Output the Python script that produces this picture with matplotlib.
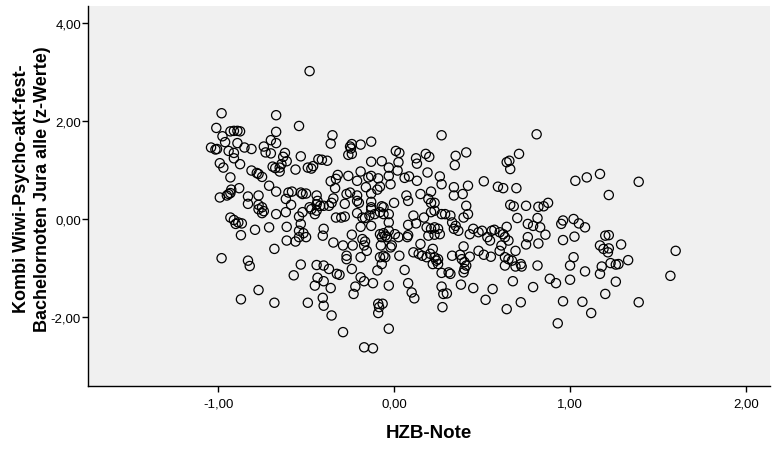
import matplotlib
matplotlib.use("Agg")
import matplotlib.pyplot as plt
from matplotlib.ticker import FixedLocator, FuncFormatter

plt.rcParams["font.family"] = ["Liberation Sans", "DejaVu Sans"]

# HZB-Note (x) and combined z-score (y)
hzb_note = [
    -0.48, -0.98, -0.67, -1.01, -0.54, -0.93, -0.91, -0.89, -0.875, -0.67,
    -0.975, -0.96, -0.89, -0.70, -0.67, -1.04, -1.015, -1.006, -0.94, -0.85,
    -0.81, -0.74, -0.73, -0.70, -0.91, -0.91, -0.62, -0.63, -0.61, -0.64,
    -0.53, -0.43, -0.99, -0.97, -0.875, -0.69, -0.675, -0.65, -0.65, -0.81,
    -0.78, -0.77, -0.75, -0.56, -0.49, -0.47, -0.46, -0.93, -0.71, -0.88,
    -0.925, -0.94, -0.93, -0.95, -0.99, -0.67, -0.83, -0.77, -0.60, -0.58,
    -0.53, -0.52, -0.50, -0.615, -0.44, -0.435, -0.44, -0.83, -0.77, -0.75,
    -0.585, -0.48, -0.42,
    -0.35, -0.36, -0.24, -0.25, -0.245, -0.26, -0.24, -0.19, -0.13, 0.27,
    0.01, 0.03, -0.41, -0.38, -0.13, -0.07, 0.025, 0.02, -0.03, -0.03,
    -0.02, 0.125, 0.13, 0.18, 0.20, 0.19, 0.26, 0.27, -0.19, -0.26,
    -0.32, -0.33, -0.36, -0.335, -0.21, -0.146, -0.13, -0.16, -0.13, -0.09,
    -0.08, -0.095, 0.06, 0.085, 0.13, 0.21, -0.27, -0.25, -0.21, -0.21,
    -0.20, -0.13, -0.13, 0.07, 0.08, 0.15, 0.195, 0.21, 0.23, -0.345,
    -0.355, -0.37, -0.40, -0.28, 0.00, -0.07,
    0.81, 0.41, 0.35, 0.345, 0.71, 0.64, 0.655, 0.66, 0.51, 0.34,
    0.34, 0.39, 0.42, 0.59, 0.62, 0.695, 0.41, 0.66, 0.68, 0.75,
    0.82, 0.85, 0.875,
    1.03, 1.095, 1.17, 1.22, 1.39,
    -0.77, -0.75, -0.74, -0.67, -0.615, -0.93, -0.91, -0.90, -0.885, -0.865,
    -0.87, -0.79, -0.71, -0.61, -0.54, -0.52, -0.53, -0.54, -0.515, -0.50,
    -0.54, -0.56, -0.61, -0.47, -0.45, -0.44, -0.40, -0.405, -0.68, -0.98,
    -0.83, -0.82, -0.53, -0.57, -0.44, -0.435, -0.45, -0.40, -0.77, -0.87,
    -0.68, -0.49, -0.405, -0.40,
    -0.33, -0.30, -0.28, -0.21, -0.18, -0.165, -0.14, -0.11, -0.08, -0.06,
    -0.03, -0.13, -0.06, -0.03, -0.345, -0.29, -0.24, -0.235, -0.19, -0.18,
    -0.165, -0.17, -0.155, -0.13, -0.08, -0.06, -0.05, -0.04, -0.07, -0.03,
    0.005, 0.025, -0.075, -0.02, -0.013, 0.08, 0.075, 0.08, 0.125, 0.11,
    0.17, 0.21, 0.23, 0.185, 0.21, 0.23, 0.25, 0.195, 0.23, 0.26,
    0.27, 0.15, 0.11, 0.14, 0.16, 0.185, 0.205, 0.22, 0.23, 0.24,
    0.25, 0.22, 0.25, -0.27, -0.27, -0.19, -0.06, -0.05, -0.08, -0.07,
    0.03, -0.24, -0.095, 0.06, 0.27, -0.37, -0.40, -0.325, -0.31, -0.36,
    -0.355, -0.19, -0.17, -0.22, -0.23, -0.12, -0.03, 0.08, 0.10, 0.115,
    0.27, 0.28, 0.275, -0.09, -0.065, -0.085, -0.09, -0.03, -0.29, -0.17,
    -0.12,
    0.29, 0.32, 0.33, 0.35, 0.34, 0.365, 0.395, 0.42, 0.70, 0.76,
    0.79, 0.83, 0.86, 0.815, 0.95, 0.96, 0.96, 0.45, 0.43, 0.48,
    0.50, 0.53, 0.545, 0.555, 0.57, 0.60, 0.62, 0.64, 0.63, 0.65,
    0.61, 0.60, 0.76, 0.75, 0.82, 0.69, 0.395, 0.48, 0.51, 0.55,
    0.33, 0.375, 0.385, 0.40, 0.41, 0.43, 0.63, 0.65, 0.67, 0.69,
    0.63, 0.72, 0.725, 0.815, 0.395, 0.40, 0.32, 0.31, 0.30, 0.38,
    0.45, 0.56, 0.52, 0.675, 0.79, 0.885, 0.92, 0.72, 0.64, 0.93,
    0.96,
    1.02, 1.05, 1.085, 1.025, 1.20, 1.22, 1.17, 1.19, 1.22, 1.215,
    1.29, 1.02, 1.00, 1.23, 1.26, 1.275, 1.33, 1.18, 1.17, 1.085,
    1.00, 1.26, 1.20, 1.60, 1.57, 1.39, 1.07, 1.12,
]
z_werte = [
    3.02, 2.16, 2.12, 1.86, 1.90, 1.79, 1.80, 1.80, 1.79, 1.78,
    1.69, 1.57, 1.55, 1.61, 1.55, 1.46, 1.42, 1.43, 1.39, 1.46,
    1.43, 1.48, 1.36, 1.34, 1.35, 1.24, 1.35, 1.27, 1.18, 1.12,
    1.28, 1.22, 1.14, 1.05, 1.12, 1.07, 1.04, 1.05, 0.97, 0.99,
    0.94, 0.92, 0.86, 1.01, 1.05, 1.03, 1.08, 0.85, 0.68, 0.63,
    0.60, 0.51, 0.53, 0.48, 0.44, 0.56, 0.46, 0.48, 0.54, 0.56,
    0.54, 0.51, 0.52, 0.41, 0.48, 0.37, 0.30, 0.31, 0.29, 0.24,
    0.29, 0.24, 0.27,
    1.71, 1.54, 1.53, 1.48, 1.44, 1.31, 1.33, 1.52, 1.58, 1.71,
    1.39, 1.35, 1.21, 1.19, 1.17, 1.18, 1.16, 0.99, 1.05, 0.88,
    0.71, 1.24, 1.13, 1.33, 1.27, 0.95, 0.87, 0.71, 0.97, 0.88,
    0.90, 0.82, 0.77, 0.63, 0.78, 0.85, 0.88, 0.65, 0.52, 0.83,
    0.66, 0.60, 0.84, 0.87, 0.78, 0.56, 0.51, 0.54, 0.48, 0.37,
    0.33, 0.35, 0.24, 0.48, 0.37, 0.51, 0.41, 0.33, 0.33, 0.42,
    0.33, 0.27, 0.27, 0.31, 0.33, 0.26,
    1.73, 1.36, 1.29, 1.10, 1.33, 1.16, 1.19, 1.02, 0.77, 0.65,
    0.48, 0.51, 0.68, 0.66, 0.63, 0.63, 0.27, 0.29, 0.26, 0.27,
    0.25, 0.26, 0.33,
    0.78, 0.85, 0.92, 0.49, 0.76,
    0.20, 0.12, 0.16, 0.10, 0.14, 0.03, -0.02, -0.10, -0.07, -0.09,
    -0.33, -0.22, -0.17, -0.16, 0.05, 0.14, -0.10, -0.24, -0.29, -0.37,
    -0.37, -0.46, -0.44, 0.20, 0.10, 0.17, -0.20, -0.34, -0.61, -0.80,
    -0.85, -0.96, -0.93, -1.15, -0.94, -1.20, -1.36, -1.27, -1.45, -1.64,
    -1.71, -1.71, -1.61, -1.77,
    0.03, 0.03, 0.05, 0.12, 0.03, 0.02, 0.07, 0.10, 0.14, 0.10,
    0.10, 0.20, 0.24, -0.07, -0.48, -0.54, -0.32, -0.54, -0.16, -0.41,
    -0.46, -0.54, -0.65, -0.14, -0.31, -0.29, -0.34, -0.37, -0.37, -0.24,
    -0.31, -0.37, -0.54, -0.58, -0.54, -0.33, -0.37, -0.12, -0.09, 0.07,
    0.03, 0.14, 0.17, -0.17, -0.20, -0.17, -0.20, -0.34, -0.32, -0.31,
    0.10, -0.51, -0.68, -0.71, -0.75, -0.78, -0.71, -0.61, -0.78, -0.85,
    -0.82, -0.92, -0.92, -0.75, -0.82, -0.78, -0.75, -0.78, -0.78, -0.92,
    -0.75, -1.02, -1.05, -1.04, -1.10, -1.02, -0.95, -1.12, -1.14, -1.41,
    -1.97, -1.19, -1.27, -1.38, -1.53, -1.31, -1.36, -1.31, -1.50, -1.62,
    -1.38, -1.53, -1.80, -1.73, -1.73, -1.80, -1.92, -2.24, -2.31, -2.62,
    -2.64,
    0.10, 0.07, -0.07, -0.14, -0.20, -0.24, 0.03, 0.10, 0.02, -0.10,
    -0.14, -0.17, -0.32, 0.02, -0.10, -0.03, -0.43, -0.20, -0.31, -0.27,
    -0.24, -0.37, -0.44, -0.24, -0.22, -0.27, -0.31, -0.16, -0.37, -0.44,
    -0.54, -0.65, -0.37, -0.52, -0.50, -0.65, -0.56, -0.65, -0.73, -0.77,
    -0.75, -0.73, -0.82, -0.88, -0.95, -0.77, -0.78, -0.82, -0.85, -0.97,
    -0.95, -0.92, -0.97, -0.95, -1.09, -1.02, -1.12, -1.09, -1.52, -1.34,
    -1.41, -1.43, -1.65, -1.27, -1.39, -1.22, -1.31, -1.70, -1.84, -2.13,
    -1.68,
    0.00, -0.09, -0.17, -0.36, -0.34, -0.33, -0.54, -0.61, -0.60, -0.68,
    -0.52, -0.78, -0.95, -0.90, -0.93, -0.92, -0.84, -0.97, -1.12, -1.07,
    -1.24, -1.28, -1.53, -0.65, -1.16, -1.70, -1.69, -1.92,
]

x_ticks = [-1, 0, 1, 2]
y_ticks = [-2, 0, 2, 4]
y_label_lines = ["Kombi Wiwi-Psycho-akt-fest-", "Bachelornoten Jura alle (z-Werte)"]


def comma_fmt(v, _):
    return f"{v:.2f}".replace(".", ",")


fig = plt.figure(figsize=(7.74, 4.52), dpi=100)
ax = fig.add_axes([88 / 774, 1 - 387 / 452, 682 / 774, 380 / 452])
ax.set_facecolor("#f0f0f0")

ax.scatter(hzb_note, z_werte, s=44, facecolors="none", edgecolors="black",
           linewidths=0.9, zorder=3)

ax.set_xlim(-1.739, 2.136)
ax.set_ylim(-3.41, 4.35)
ax.xaxis.set_major_locator(FixedLocator(x_ticks))
ax.yaxis.set_major_locator(FixedLocator(y_ticks))
ax.xaxis.set_major_formatter(FuncFormatter(comma_fmt))
ax.yaxis.set_major_formatter(FuncFormatter(comma_fmt))
ax.tick_params(axis="both", direction="out", length=4, width=1,
               labelsize=9.5, color="black")
ax.tick_params(axis="x", pad=4)
ax.tick_params(axis="y", pad=1)

for side in ("top", "right"):
    ax.spines[side].set_visible(False)
for side in ("left", "bottom"):
    ax.spines[side].set_linewidth(1)
    ax.spines[side].set_color("black")

ax.set_xlabel("HZB-Note", fontsize=13.5, fontweight="bold", labelpad=11)

# two-line rotated y label, each line centred on its own column
for x_px, line in zip([22, 43], y_label_lines):
    fig.text(x_px / 774, 1 - 189 / 452, line, rotation=90, ha="center",
             va="center", fontsize=13, fontweight="bold")

fig.savefig("out.png", dpi=100)
plt.close(fig)
